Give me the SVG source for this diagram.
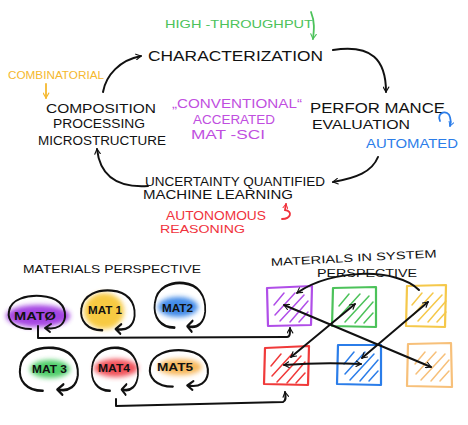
<svg xmlns="http://www.w3.org/2000/svg" xmlns:xlink="http://www.w3.org/1999/xlink" width="468" height="425" viewBox="0 0 468 425">
<style>
text{font-family:"Liberation Sans","DejaVu Sans",sans-serif;text-transform:uppercase;}
.k{fill:#111;}
.t1{font-size:14px;}
.t2{font-size:12px;}
.t3{font-size:11px;}
.t4{font-size:10px;font-weight:bold;}
.ln{fill:none;stroke:#111;stroke-width:2;stroke-linecap:round;stroke-linejoin:round;}
.blob{fill:none;stroke:#111;stroke-width:2;stroke-linecap:round;stroke-linejoin:round;}
.sq{fill:none;stroke-width:2.2;stroke-linejoin:round;}
.hl{filter:url(#soft);opacity:0.9;}
</style>
<defs>
<filter id="soft" x="-30%" y="-50%" width="160%" height="200%"><feGaussianBlur stdDeviation="2.5"/></filter>
<marker id="ah" viewBox="0 0 10 10" refX="8" refY="5" markerWidth="7" markerHeight="7" orient="auto-start-reverse" markerUnits="userSpaceOnUse">
<path d="M1,1 L8,5 L1,9" fill="none" stroke="#111" stroke-width="1.6" stroke-linecap="round" stroke-linejoin="round"/>
</marker>
<marker id="ahg" viewBox="0 0 10 10" refX="8" refY="5" markerWidth="7" markerHeight="7" orient="auto" markerUnits="userSpaceOnUse">
<path d="M1,1 L8,5 L1,9" fill="none" stroke="#4cc25a" stroke-width="1.6" stroke-linecap="round"/>
</marker>
<marker id="ahy" viewBox="0 0 10 10" refX="8" refY="5" markerWidth="7" markerHeight="7" orient="auto" markerUnits="userSpaceOnUse">
<path d="M1,1 L8,5 L1,9" fill="none" stroke="#f5b82e" stroke-width="1.6" stroke-linecap="round"/>
</marker>
<marker id="ahb" viewBox="0 0 10 10" refX="8" refY="5" markerWidth="6" markerHeight="6" orient="auto" markerUnits="userSpaceOnUse">
<path d="M1,1 L8,5 L1,9" fill="none" stroke="#2b7de9" stroke-width="1.6" stroke-linecap="round"/>
</marker>
<marker id="ahr" viewBox="0 0 10 10" refX="8" refY="5" markerWidth="6" markerHeight="6" orient="auto" markerUnits="userSpaceOnUse">
<path d="M1,1 L8,5 L1,9" fill="none" stroke="#f0323c" stroke-width="1.6" stroke-linecap="round"/>
</marker>
<path id="bl" class="blob" d="M-6,16 C-22,16 -30,8 -28,-2 C-26,-14 -10,-18 4,-17 C20,-16 29,-8 28,4 C27,12 20,17 9,15 M14,11 L8,15 L13,19"/>
<path id="hatch" fill="none" stroke-width="1.5" stroke-linecap="round" d="M6,18 L16,6 M7,28 L27,6 M12,34 L36,8 M22,35 L40,14 M31,35 L40,25"/>
</defs>

<rect width="468" height="425" fill="#fff"/>

<!-- top cycle -->
<g id="characterization">
<text class="k t1" x="148" y="61" textLength="175" lengthAdjust="spacingAndGlyphs">CHARACTERIZATION</text>
</g>
<g id="high-throughput">
<text x="165" y="28" fill="#4cc25a" class="t3" textLength="148" lengthAdjust="spacingAndGlyphs">HIGH -THROUGHPUT</text>
</g>
<g id="combinatorial">
<text x="8" y="79" fill="#f5b82e" class="t3" textLength="96" lengthAdjust="spacingAndGlyphs">COMBINATORIAL</text>
</g>
<g id="composition">
<text class="k t2" x="46" y="113" textLength="110" lengthAdjust="spacingAndGlyphs">COMPOSITION</text>
<text class="k t2" x="53" y="128" textLength="92" lengthAdjust="spacingAndGlyphs">PROCESSING</text>
<text class="k t2" x="38" y="145" textLength="128" lengthAdjust="spacingAndGlyphs">MICROSTRUCTURE</text>
</g>
<g id="conventional">
<text x="172" y="108" fill="#c04ee0" class="t2" textLength="130" lengthAdjust="spacingAndGlyphs">„CONVENTIONAL“</text>
<text x="193" y="124" fill="#c04ee0" class="t2" textLength="82" lengthAdjust="spacingAndGlyphs">ACCERATED</text>
<text x="191" y="139" fill="#c04ee0" class="t2" textLength="74" lengthAdjust="spacingAndGlyphs">MAT -SCI</text>
</g>
<g id="performance">
<text class="k t1" x="310" y="113" textLength="135" lengthAdjust="spacingAndGlyphs">PERFOR MANCE</text>
<text class="k t2" x="312" y="129" textLength="98" lengthAdjust="spacingAndGlyphs">EVALUATION</text>
</g>
<g id="automated">
<text x="366" y="148" fill="#2b7de9" class="t2" textLength="92" lengthAdjust="spacingAndGlyphs">AUTOMATED</text>
</g>
<g id="ml">
<text class="k t2" x="145" y="186" textLength="180" lengthAdjust="spacingAndGlyphs">UNCERTAINTY QUANTIFIED</text>
<text class="k t2" x="143" y="199" textLength="150" lengthAdjust="spacingAndGlyphs">MACHINE LEARNING</text>
</g>
<g id="autonomous">
<text x="166" y="220" fill="#f0323c" class="t2" textLength="100" lengthAdjust="spacingAndGlyphs">AUTONOMOUS</text>
<text x="160" y="233" fill="#f0323c" class="t3" textLength="85" lengthAdjust="spacingAndGlyphs">REASONING</text>
</g>

<!-- bottom left -->
<g id="materials-perspective">
<text class="k t3" x="23" y="273" textLength="178" lengthAdjust="spacingAndGlyphs">MATERIALS PERSPECTIVE</text>
</g>
<g id="mat0">
<ellipse class="hl" cx="38" cy="316" rx="32" ry="11" fill="#9b30e0"/>
<use href="#bl" transform="translate(37,313)"/>
<text class="k t4" x="14" y="320" textLength="42" lengthAdjust="spacingAndGlyphs">MATØ</text>
</g>
<g id="mat1">
<ellipse class="hl" cx="104" cy="311" rx="20" ry="18" fill="#f7c52e"/>
<use href="#bl" transform="translate(108,311) scale(0.95,1.2)"/>
<text class="k t4" x="88" y="314" textLength="34" lengthAdjust="spacingAndGlyphs">MAT 1</text>
</g>
<g id="mat2">
<ellipse class="hl" cx="178" cy="307" rx="20" ry="10" fill="#2d7fe6"/>
<use href="#bl" transform="translate(180,306) scale(0.9,1.35)"/>
<text class="k t4" x="162" y="312" textLength="31" lengthAdjust="spacingAndGlyphs">MAT2</text>
</g>
<g id="mat3">
<ellipse class="hl" cx="50" cy="369" rx="20" ry="9" fill="#3cc95a"/>
<use href="#bl" transform="translate(49,370) scale(1.03,1.3)"/>
<text class="k t4" x="32" y="373" textLength="35" lengthAdjust="spacingAndGlyphs">MAT 3</text>
</g>
<g id="mat4">
<ellipse class="hl" cx="116" cy="368" rx="22" ry="9" fill="#f0404a"/>
<use href="#bl" transform="translate(115,370) scale(0.82,1.3)"/>
<text class="k t4" x="98" y="372" textLength="32" lengthAdjust="spacingAndGlyphs">MAT4</text>
</g>
<g id="mat5">
<ellipse class="hl" cx="180" cy="367" rx="22" ry="8" fill="#f6b04c"/>
<use href="#bl" transform="translate(179,369) scale(1.03,1.1)"/>
<text class="k t4" x="157" y="371" textLength="36" lengthAdjust="spacingAndGlyphs">MAT5</text>
</g>

<!-- bottom right -->
<g id="system-perspective">
<text class="k t3" x="271" y="266" textLength="166" lengthAdjust="spacingAndGlyphs" transform="rotate(-3 271 266)">MATERIALS IN SYSTEM</text>
<text class="k t3" x="317" y="277" textLength="100" lengthAdjust="spacingAndGlyphs">PERSPECTIVE</text>
</g>
<g id="sq-purple">
<path class="sq" stroke="#b04ee8" d="M267,288 L312,286 L311,325 L268,326 Z"/>
<use href="#hatch" x="268" y="287" stroke="#b04ee8"/>
</g>
<g id="sq-green">
<path class="sq" stroke="#4cc25a" d="M333,288 L376,287 L376,327 L332,326 Z"/>
<use href="#hatch" x="333" y="288" stroke="#4cc25a"/>
</g>
<g id="sq-yellow">
<path class="sq" stroke="#f5c84a" d="M407,286 L446,285 L445,327 L406,326 Z"/>
<use href="#hatch" x="406" y="287" stroke="#f5c84a"/>
</g>
<g id="sq-red">
<path class="sq" stroke="#f03a3a" d="M265,348 L309,346 L308,385 L264,384 Z"/>
<use href="#hatch" x="265" y="348" stroke="#f03a3a"/>
</g>
<g id="sq-blue">
<path class="sq" stroke="#2b7de9" d="M338,345 L381,345 L381,385 L337,384 Z"/>
<use href="#hatch" x="338" y="346" stroke="#2b7de9"/>
</g>
<g id="sq-orange">
<path class="sq" stroke="#f7c07a" d="M408,344 L451,343 L452,387 L407,386 Z"/>
<use href="#hatch" x="409" y="346" stroke="#f7c07a"/>
</g>

<!-- connectors -->
<g id="connectors">
<path class="ln" d="M103,92 C106,75 120,60 141,56" marker-end="url(#ah)"/>
<path class="ln" d="M333,50 C372,44 386,60 386,92" marker-end="url(#ah)"/>
<path class="ln" d="M378,157 C372,172 356,178 333,182" marker-end="url(#ah)"/>
<path class="ln" d="M148,186 C118,188 100,176 97,149" marker-end="url(#ah)"/>
<path fill="none" stroke="#4cc25a" stroke-width="1.8" stroke-linecap="round" d="M311,12 C315,22 314,30 313,39" marker-end="url(#ahg)"/>
<path fill="none" stroke="#f5b82e" stroke-width="1.8" stroke-linecap="round" d="M46,84 L46,98" marker-end="url(#ahy)"/>
<path fill="none" stroke="#2b7de9" stroke-width="1.8" stroke-linecap="round" d="M440,121 C436,112 448,109 450,117 C451,120 451,123 450,126" marker-end="url(#ahb)"/>
<path fill="none" stroke="#f0323c" stroke-width="1.8" stroke-linecap="round" d="M282,219 C291,219 293,211 285,210 L286,204" marker-end="url(#ahr)"/>
<path class="ln" d="M38,326 L38,338 L287,337 C290,337 290,334 290,328" marker-end="url(#ah)"/>
<path class="ln" d="M116,399 L116,406 L283,402 C286,401 286,398 285,392" marker-end="url(#ah)"/>
<path class="ln" d="M419,290 C398,268 332,268 297,293" marker-end="url(#ah)"/>
<path class="ln" d="M284,305 L431,367" marker-start="url(#ah)" marker-end="url(#ah)"/>
<path class="ln" d="M291,357 L355,304" marker-start="url(#ah)" marker-end="url(#ah)"/>
<path class="ln" d="M362,358 L428,302" marker-start="url(#ah)" marker-end="url(#ah)"/>
<path class="ln" d="M284,365 C310,363 340,363 361,364" marker-start="url(#ah)" marker-end="url(#ah)"/>
</g>
</svg>
